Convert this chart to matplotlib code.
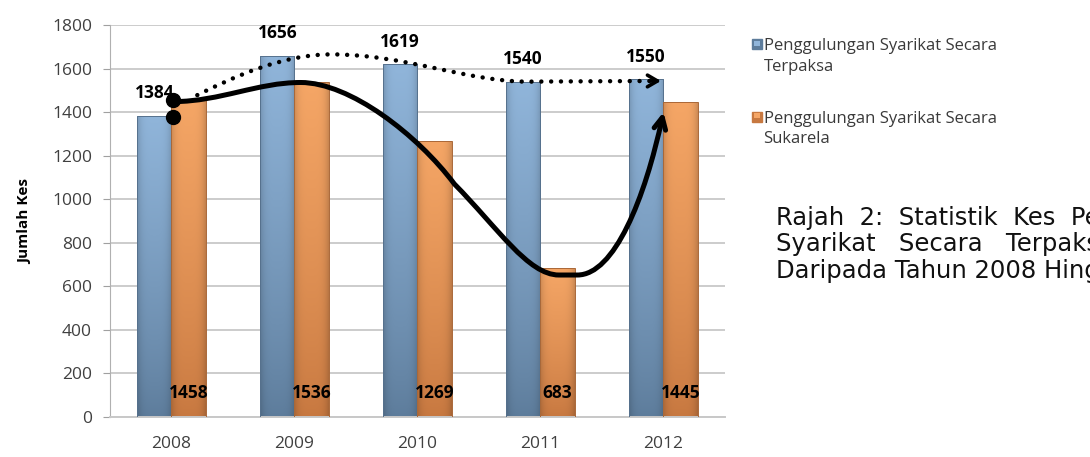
import matplotlib.pyplot as plt
import numpy as np
from matplotlib.path import Path
from matplotlib.patches import FancyArrowPatch, Rectangle
from matplotlib.colors import to_rgb

# data
tahun = ['2008', '2009', '2010', '2011', '2012']
terpaksa = [1384, 1656, 1619, 1540, 1550]
sukarela = [1458, 1536, 1269, 683, 1445]

label_terpaksa = 'Penggulungan Syarikat Secara\nTerpaksa'
label_sukarela = 'Penggulungan Syarikat Secara\nSukarela'
caption = ['Rajah  2:  Statistik  Kes  Penggulungan',
           'Syarikat   Secara   Terpaksa   dan   Sukarela',
           'Daripada Tahun 2008 Hingga 2012']

# warna (atas, bawah)
biru = ['#90b5da', '#5d7c9b']
oren = ['#f5a666', '#c77840']

plt.rcParams['font.family'] = ['Open Sans', 'DejaVu Sans']

fig = plt.figure(figsize=(10.9, 4.57), dpi=100)
ax = fig.add_axes([0.1009, 0.0875, 0.5642, 0.8578])

x = np.arange(len(tahun))
w = 0.28


def gradient_bars(bars, cols):
    atas, bawah = np.array(to_rgb(cols[0])), np.array(to_rgb(cols[1]))
    t = np.linspace(0, 1, 120)[:, None, None] ** 0.8
    u = np.linspace(-1, 1, 40)[None, :, None]
    img = bawah + (atas - bawah) * t
    img = img * (1 - 0.16 * np.abs(u) ** 4)
    img = np.clip(img, 0, 1)
    for b in bars:
        x0, y0 = b.get_x(), b.get_y()
        bw, bh = b.get_width(), b.get_height()
        im = ax.imshow(img, origin='lower', aspect='auto',
                       extent=[x0, x0 + bw, y0, y0 + bh], zorder=2)
        im.set_clip_path(b)
        b.set_facecolor('none')


b1 = ax.bar(x - w / 2, terpaksa, w, edgecolor='#56718d', linewidth=0.7, zorder=3)
b2 = ax.bar(x + w / 2, sukarela, w, edgecolor='#aa6838', linewidth=0.7, zorder=3)
gradient_bars(b1, biru)
gradient_bars(b2, oren)

ax.set_xlim(-0.5, len(tahun) - 0.5)
ax.set_ylim(0, 1800)
ax.set_yticks(range(0, 1801, 200))
ax.set_xticks(x)
ax.set_xticklabels(tahun)
ax.tick_params(axis='y', length=5, color='#a0a0a0', labelsize=12.5,
               labelcolor='#404040', pad=8)
ax.tick_params(axis='x', length=0, labelsize=12.5, labelcolor='#404040', pad=14)
ax.grid(axis='y', color='#cccccc', linewidth=1.4, zorder=0)
ax.set_axisbelow(True)
for s in ['top', 'right']:
    ax.spines[s].set_visible(False)
ax.spines['left'].set_color('#b0b0b0')
ax.spines['bottom'].set_color('#c8c8c8')
ax.spines['bottom'].set_linewidth(1.4)
ax.set_ylabel('Jumlah Kes', fontsize=11, fontweight='bold', labelpad=14)

# label nilai
for i in range(len(tahun)):
    ax.annotate(str(terpaksa[i]), (x[i] - w / 2, terpaksa[i]), xytext=(0, 10),
                textcoords='offset points', ha='center', va='bottom',
                fontsize=12.5, fontweight='bold', zorder=5)
    ax.text(x[i] + w / 2, 110, str(sukarela[i]), ha='center', va='center',
            fontsize=12.5, fontweight='bold', zorder=5)

# garis trend sukarela (pepejal)
s0, s1, s3, s4 = sukarela[0], sukarela[1], sukarela[3], sukarela[4]
verts = [(0.02, s0 - 10), (0.4, s0 - 8), (0.7, s1), (1.05, s1),
         (1.45, s1), (2.0, s1 - 240), (2.3, s1 - 466),
         (2.65, s1 - 666), (2.9, s3 - 31), (3.15, s3 - 31),
         (3.3, s3 - 31),
         (3.6, s3 - 31), (3.85, s3 + 320), (4.0, s4 - 45)]
codes = [Path.MOVETO] + [Path.CURVE4] * 9 + [Path.LINETO] + [Path.CURVE4] * 3
pepejal = FancyArrowPatch(path=Path(verts, codes),
                          arrowstyle='->,head_length=0.7,head_width=0.35',
                          color='black', linewidth=3.6, zorder=6,
                          mutation_scale=12)
ax.add_patch(pepejal)

# garis trend terpaksa (titik)
t1, t4 = terpaksa[1], terpaksa[4]
verts2 = [(0.21, s0 + 20), (0.5, 1560), (0.9, t1 + 9), (1.3, t1 + 9),
          (1.9, t1 + 9), (2.4, t4 - 10), (2.9, t4 - 10),
          (3.93, t4 - 7)]
codes2 = [Path.MOVETO] + [Path.CURVE4] * 6 + [Path.LINETO]
titik = FancyArrowPatch(path=Path(verts2, codes2), arrowstyle='-',
                        color='black', linewidth=3.2, zorder=6,
                        linestyle=(0, (0.01, 2.2)), capstyle='round')
ax.add_patch(titik)
ax.annotate('', xy=(3.98, t4 - 7), xytext=(3.90, t4 - 7),
            arrowprops=dict(arrowstyle='->,head_length=0.6,head_width=0.35',
                            color='black', linewidth=2.6, mutation_scale=12,
                            shrinkA=0, shrinkB=0), zorder=6)

ax.plot([0.012, 0.012], [s0 - 3, terpaksa[0] - 7], 'o', color='black',
        markersize=10, zorder=7)

# legenda
for j, (lbl, cols) in enumerate([(label_terpaksa, biru), (label_sukarela, oren)]):
    yy = 0.903 - j * 0.158
    fig.patches.append(Rectangle((0.690, yy - 0.011), 0.0092, 0.022,
                                 transform=fig.transFigure, facecolor=cols[1],
                                 edgecolor=cols[1]))
    fig.patches.append(Rectangle((0.6918, yy - 0.004), 0.0056, 0.012,
                                 transform=fig.transFigure, facecolor=cols[0],
                                 edgecolor='none'))
    fig.text(0.7005, yy + 0.013, lbl, fontsize=12, color='#3a3a3a', va='top',
             linespacing=1.35)

for k, baris in enumerate(caption):
    fig.text(0.712, 0.522 - k * 0.057, baris, fontsize=17.5, color='#111111',
             va='center', family=['DejaVu Sans'])

fig.savefig('out.png', dpi=100)
